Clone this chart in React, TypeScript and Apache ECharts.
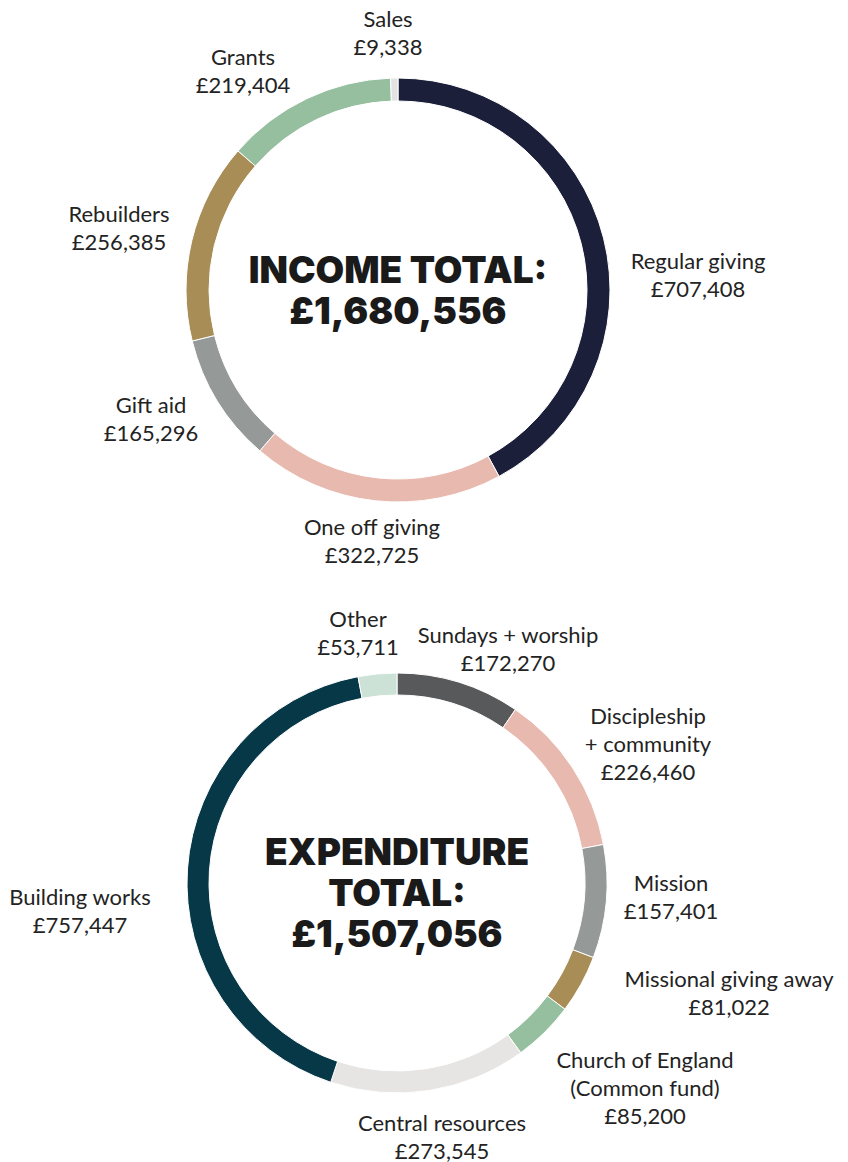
import React, { useEffect, useRef } from "react";
import * as echarts from "echarts";

// ---------- data ----------
const incomeCategories = ["Regular giving", "One off giving", "Gift aid", "Rebuilders", "Grants", "Sales"];
const incomeValues = [707408, 322725, 165296, 256385, 219404, 9338];
const incomeTotalText = ["INCOME TOTAL:", "£1,680,556"];

const expenditureCategories = [
  "Sundays + worship",
  "Discipleship\n+ community",
  "Mission",
  "Missional giving away",
  "Church of England\n(Common fund)",
  "Central resources",
  "Building works",
  "Other",
];
const expenditureValues = [172270, 226460, 157401, 81022, 85200, 273545, 757447, 53711];
const expenditureTotalText = ["EXPENDITURE", "TOTAL:", "£1,507,056"];

// ---------- styles / layout ----------
const incomeColors = ["#1c1f3a", "#e8b9ae", "#959997", "#a98d56", "#96bfa0", "#e3e3e1"];
const expenditureColors = ["#58595b", "#e8b9ae", "#959997", "#a98d56", "#96bfa0", "#e6e5e3", "#073847", "#cde2d6"];

const incomeCenter = [398, 290];
const incomeRadius = [189, 212];
const expenditureCenter = [397, 883];
const expenditureRadius = [188, 210];

// label block centres, offset from the pie centre
const incomeLabelOffsets = [
  [300, -16],
  [-26, 250],
  [-247, 128],
  [-279, -63],
  [-155, -220],
  [-10, -258],
];
const expenditureLabelOffsets = [
  [111, -235],
  [251, -140],
  [274, 13],
  [332, 109],
  [248, 204],
  [45, 253],
  [-317, 27],
  [-39, -251],
];

const LABEL_FONT = "Lato, 'Open Sans', sans-serif";
const TITLE_FONT = "Inter, Roboto, 'DejaVu Sans', sans-serif";

function fmt(v: number) {
  return "£" + v.toLocaleString("en-GB");
}

function makeSeries(
  names: string[],
  values: number[],
  colors: string[],
  center: number[],
  radius: number[],
  offsets: number[][]
) {
  return {
    type: "pie",
    center,
    radius,
    startAngle: 90,
    clockwise: true,
    avoidLabelOverlap: false,
    silent: true,
    itemStyle: { borderColor: "#ffffff", borderWidth: 1 },
    label: {
      show: true,
      position: "outside",
      formatter: (p: any) => p.name + "\n" + fmt(p.value),
      fontFamily: LABEL_FONT,
      fontSize: 22,
      fontWeight: 400,
      lineHeight: 28,
      color: "#232323",
      align: "center",
    },
    labelLine: { show: false },
    labelLayout: (p: any) => {
      const o = offsets[p.dataIndex];
      return { x: center[0] + o[0], y: center[1] + o[1], align: "center", verticalAlign: "middle" };
    },
    data: names.map((n, i) => ({ name: n, value: values[i], itemStyle: { color: colors[i] } })),
  };
}

export default function App() {
  const ref = useRef<HTMLDivElement>(null);
  useEffect(() => {
    if (!ref.current) return;
    const chart = echarts.init(ref.current, null, { renderer: "svg" });
    const titleStyle = {
      fontFamily: TITLE_FONT,
      fontSize: 37,
      fontWeight: 900,
      lineHeight: 41,
      fill: "#1a1a1a",
      align: "center",
      verticalAlign: "middle",
    };
    chart.setOption({
      animation: false,
      backgroundColor: "#ffffff",
      series: [
        makeSeries(incomeCategories, incomeValues, incomeColors, incomeCenter, incomeRadius, incomeLabelOffsets),
        makeSeries(
          expenditureCategories,
          expenditureValues,
          expenditureColors,
          expenditureCenter,
          expenditureRadius,
          expenditureLabelOffsets
        ),
      ],
      graphic: [
        {
          type: "text",
          x: incomeCenter[0],
          y: incomeCenter[1],
          style: { ...titleStyle, text: incomeTotalText.join("\n") },
        },
        {
          type: "text",
          x: expenditureCenter[0],
          y: expenditureCenter[1] + 9,
          style: { ...titleStyle, text: expenditureTotalText.join("\n") },
        },
      ],
    });
    return () => chart.dispose();
  }, []);
  return (
    <div
      ref={ref}
      style={{ position: "absolute", left: 0, top: 0, width: 848, height: 1162 }}
    />
  );
}
